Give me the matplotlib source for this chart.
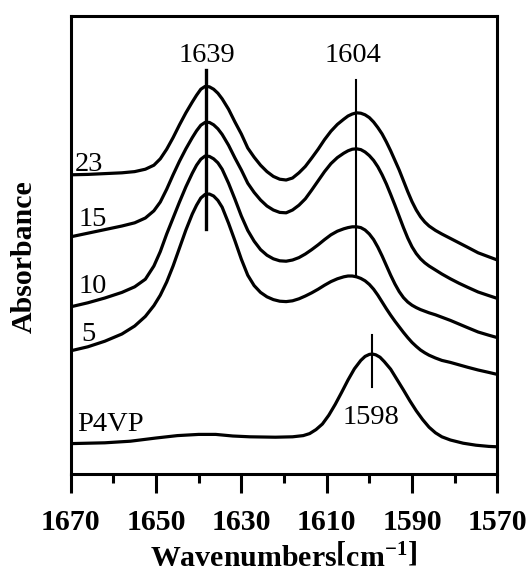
import matplotlib
matplotlib.use('Agg')
import matplotlib.pyplot as plt

plt.rcParams['font.family'] = ['Liberation Serif', 'DejaVu Serif']
plt.rcParams['mathtext.fontset'] = 'custom'
plt.rcParams['mathtext.rm'] = 'Liberation Serif:bold'
plt.rcParams['mathtext.bf'] = 'Liberation Serif:bold'

# ---- data (absorbance, stacked spectra) ----
wn = [1670, 1666, 1662, 1658, 1655, 1652.5, 1650.5, 1649, 1647.5, 1646,
      1644.5, 1643, 1641.5, 1640.5, 1639.5, 1638.5, 1637.5, 1636.5, 1635.5, 1634.5,
      1633, 1631.5, 1630, 1628.5, 1627, 1625.5, 1624, 1622.5, 1621, 1619.5,
      1618, 1616.5, 1615, 1613.5, 1612, 1610.5, 1609, 1607.5, 1606, 1605,
      1604, 1603, 1602, 1601, 1600, 1599, 1598, 1597, 1596, 1595,
      1594, 1593, 1592, 1591, 1590, 1589, 1588, 1587, 1586, 1584.5,
      1583, 1581, 1579, 1577, 1574.5, 1572, 1570]

abs_23 = [.748, .749, .751, .753, .756, .762, .772, .788, .812, .841,
          .873, .903, .930, .947, .962, .969, .968, .962, .952, .938,
          .912, .880, .850, .815, .792, .772, .756, .744, .737, .735,
          .740, .753, .769, .790, .812, .836, .857, .874, .887, .895,
          .900, .903, .902, .898, .891, .880, .866, .850, .830, .808,
          .784, .760, .733, .706, .681, .660, .643, .630, .620, .609,
          .600, .589, .578, .567, .553, .543, .535]
abs_15 = [.593, .602, .611, .620, .628, .640, .658, .680, .712, .748,
          .782, .813, .841, .858, .872, .879, .879, .873, .863, .849,
          .822, .790, .760, .727, .704, .685, .670, .660, .654, .653,
          .660, .672, .688, .710, .733, .756, .776, .791, .802, .808,
          .812, .813, .811, .805, .796, .784, .768, .748, .725, .699,
          .672, .644, .616, .590, .568, .551, .538, .528, .520, .510,
          .500, .488, .477, .467, .455, .446, .439]
abs_10 = [.418, .428, .440, .454, .468, .487, .520, .556, .600, .640,
          .680, .718, .752, .772, .787, .795, .794, .788, .778, .762,
          .727, .687, .645, .609, .582, .561, .547, .538, .533, .532,
          .535, .541, .550, .561, .573, .586, .598, .607, .613, .616,
          .618, .618, .616, .610, .600, .586, .567, .545, .521, .497,
          .475, .456, .441, .430, .422, .416, .411, .407, .403, .398,
          .392, .384, .375, .366, .355, .347, .341]
abs_5 = [.308, .318, .332, .350, .370, .394, .421, .447, .480, .520,
         .565, .610, .650, .672, .690, .699, .700, .695, .684, .667,
         .627, .583, .537, .497, .471, .454, .443, .436, .432, .431,
         .433, .438, .445, .453, .462, .472, .481, .488, .493, .495,
         .495, .493, .489, .483, .474, .462, .447, .430, .413, .397,
         .382, .368, .354, .341, .329, .319, .310, .303, .297, .290,
         .284, .279, .273, .267, .260, .254, .249]

wn_p4vp = [1670, 1662, 1656, 1650, 1645, 1640, 1636, 1632, 1628, 1622,
           1618, 1615.5, 1614, 1612.5, 1611, 1609.5, 1608, 1606.5, 1605, 1603.5,
           1602, 1601, 1600, 1599.3, 1598.5, 1597.5, 1596.5, 1595, 1593.5, 1592,
           1590.5, 1589, 1587.5, 1586, 1584.5, 1583, 1581, 1578, 1575, 1572, 1570]
abs_p4vp = [.076, .078, .082, .090, .096, .099, .099, .095, .093, .092,
            .093, .096, .101, .111, .125, .147, .174, .204, .235, .263,
            .284, .294, .299, .300, .298, .292, .281, .262, .236, .210,
            .183, .158, .136, .117, .103, .093, .085, .077, .072, .069, .068]

spectra = [abs_23, abs_15, abs_10, abs_5]
labels = ['23', '15', '10', '5', 'P4VP']
label_pos = [(1669.1, 0.7575), (1668.05, 0.619), (1668.05, 0.4525),
             (1667.6, 0.3325), (1668.5, 0.1075)]

# peak marker lines: (position, bottom, top)
markers = [(1638.4, 0.612, 1.01), (1603.1, 0.492, 0.985), (1599.3, 0.217, 0.348)]
marker_lw = [2.4, 1.5, 1.5]
peak_text = ['1639', '1604', '1598']
peak_text_pos = [(1638.05, 1.029), (1603.8, 1.029), (1599.6, 0.125)]

major_ticks = [1670, 1650, 1630, 1610, 1590, 1570]
minor_ticks = [1660, 1640, 1620, 1600, 1580]

fig = plt.figure(figsize=(5.28, 5.77), dpi=100)
ax = fig.add_axes([0.1339, 0.1785, 0.808, 0.7943])

for y in spectra:
    ax.plot(wn, y, color='black', lw=2.3, solid_joinstyle='round', solid_capstyle='round')
ax.plot(wn_p4vp, abs_p4vp, color='black', lw=2.3, solid_joinstyle='round')

for (x, y0, y1), lw in zip(markers, marker_lw):
    ax.plot([x, x], [y0, y1], color='black', lw=lw)

for t, (x, y) in zip(peak_text, peak_text_pos):
    ax.text(x, y, t, ha='center', va='baseline', fontsize=20.5)

for t, (x, y) in zip(labels, label_pos):
    ax.text(x, y, t, ha='left', va='baseline', fontsize=20.5)

ax.set_xlim(1670, 1570)
ax.set_ylim(0, 1.1458)
ax.set_xticks(major_ticks, labels=[str(t) for t in major_ticks],
              fontsize=21.5, fontweight='bold')
ax.set_xticks(minor_ticks, minor=True)
ax.tick_params(axis='x', which='major', direction='out', length=13.5, width=2.2, pad=11.5)
ax.tick_params(axis='x', which='minor', direction='out', length=6.5, width=2.2)
ax.set_yticks([])
for s in ax.spines.values():
    s.set_linewidth(2.2)

ax.set_ylabel('Absorbance', fontsize=21.5, fontweight='bold')
ax.yaxis.set_label_coords(-0.077, 0.4735)

fig.text(0.538, 0.017, r'Wavenumbers$\left[\mathrm{cm}^{-1}\right]$',
         ha='center', va='baseline', fontsize=21.5, fontweight='bold')

fig.savefig('out.png', dpi=100)
